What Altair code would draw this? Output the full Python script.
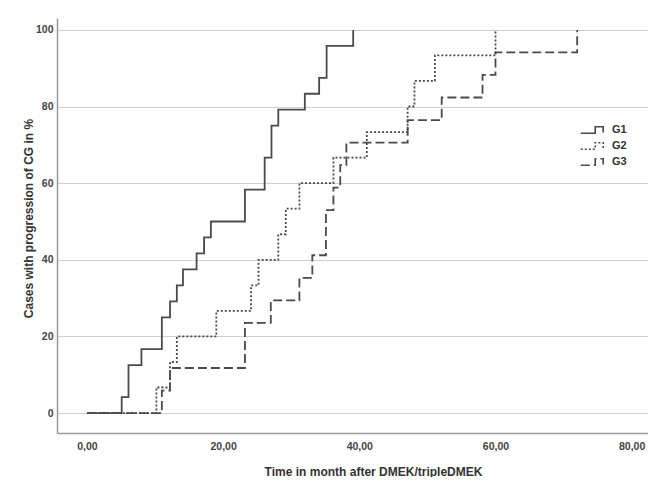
import altair as alt
import pandas as pd

groups = ["G1", "G2", "G3"]

g1_time = [0, 5.1, 6.1, 8.0, 11.0, 12.2, 13.2, 14.1, 16.1, 17.2, 18.2, 23.2, 26.1, 27.1, 28.1, 32.0, 34.1, 35.2, 39.1]
g1_pct = [0, 4.17, 12.5, 16.67, 25, 29.17, 33.33, 37.5, 41.67, 45.83, 50, 58.33, 66.67, 75, 79.17, 83.33, 87.5, 95.83, 100]

g2_time = [0, 10.2, 12.2, 13.2, 19.0, 24.1, 25.2, 28.1, 29.2, 31.2, 36.2, 41.1, 47.1, 48.1, 51.1, 60.0]
g2_pct = [0, 6.67, 13.33, 20, 26.67, 33.33, 40, 46.67, 53.33, 60, 66.67, 73.33, 80, 86.67, 93.33, 100]

g3_time = [0, 11.0, 12.2, 23.2, 27.0, 31.2, 33.1, 35.1, 36.2, 37.2, 38.1, 47.1, 52.1, 58.1, 60.0, 72.0]
g3_pct = [0, 5.88, 11.76, 23.53, 29.41, 35.29, 41.18, 52.94, 58.82, 64.71, 70.59, 76.47, 82.35, 88.24, 94.12, 100]

x_ticks = [0, 20, 40, 60, 80]
y_ticks = [0, 20, 40, 60, 80, 100]

rows = []
for g, ts, ps in [("G1", g1_time, g1_pct), ("G2", g2_time, g2_pct), ("G3", g3_time, g3_pct)]:
    for i, (t, p) in enumerate(zip(ts, ps)):
        rows.append({"group": g, "time": t, "pct": p, "order": i})
df = pd.DataFrame(rows)

FONT = "Liberation Sans"
LINE = "#4a4a4a"
step_path = "M-1.4,0.4H0.4V-0.4H1.4V0.3"

chart = alt.Chart(df).mark_line(interpolate="step-after", strokeWidth=1.8, color=LINE).encode(
    x=alt.X("time:Q",
            scale=alt.Scale(domain=[-4.4, 82.4], nice=False, zero=False),
            axis=alt.Axis(values=x_ticks, title="Time in month after DMEK/tripleDMEK",
                          labelExpr="replace(format(datum.value, '.2f'), '.', ',')",
                          grid=False, ticks=False, labelPadding=8,
                          titleX=316, titleY=38, titleBaseline="middle")),
    y=alt.Y("pct:Q",
            scale=alt.Scale(domain=[-5.2, 103.1], nice=False, zero=False),
            axis=alt.Axis(values=y_ticks, title="Cases with progression of CG in %",
                          grid=True, ticks=False, labelPadding=4,
                          titleX=-29, titleY=200, titleBaseline="middle")),
    strokeDash=alt.StrokeDash("group:N",
                              scale=alt.Scale(domain=groups, range=[[1, 0], [2, 2], [9, 4]]),
                              legend=alt.Legend(title=None, orient="none", legendX=526, legendY=103,
                                                symbolType=step_path, symbolSize=256,
                                                symbolStrokeColor=LINE, symbolStrokeWidth=1.6,
                                                labelFont=FONT, labelFontWeight="bold",
                                                labelFontSize=11, labelColor="#333",
                                                labelOffset=11, rowPadding=0)),
    order="order:Q",
).properties(
    width=591, height=415,
    padding={"left": 49, "top": 10, "right": 0, "bottom": 44},
    autosize=alt.AutoSizeParams(type="none"),
).configure_view(stroke=None).configure_axis(
    domainColor="#9a9a9a", domainWidth=1.5,
    gridColor="#d0d0d0", gridWidth=1.2,
    labelFont=FONT, labelFontWeight="bold", labelFontSize=10.5, labelColor="#444",
    titleFont=FONT, titleFontWeight="bold", titleFontSize=12, titleColor="#333",
)

chart.save("out.html", embed_options={"renderer": "svg", "actions": False})
